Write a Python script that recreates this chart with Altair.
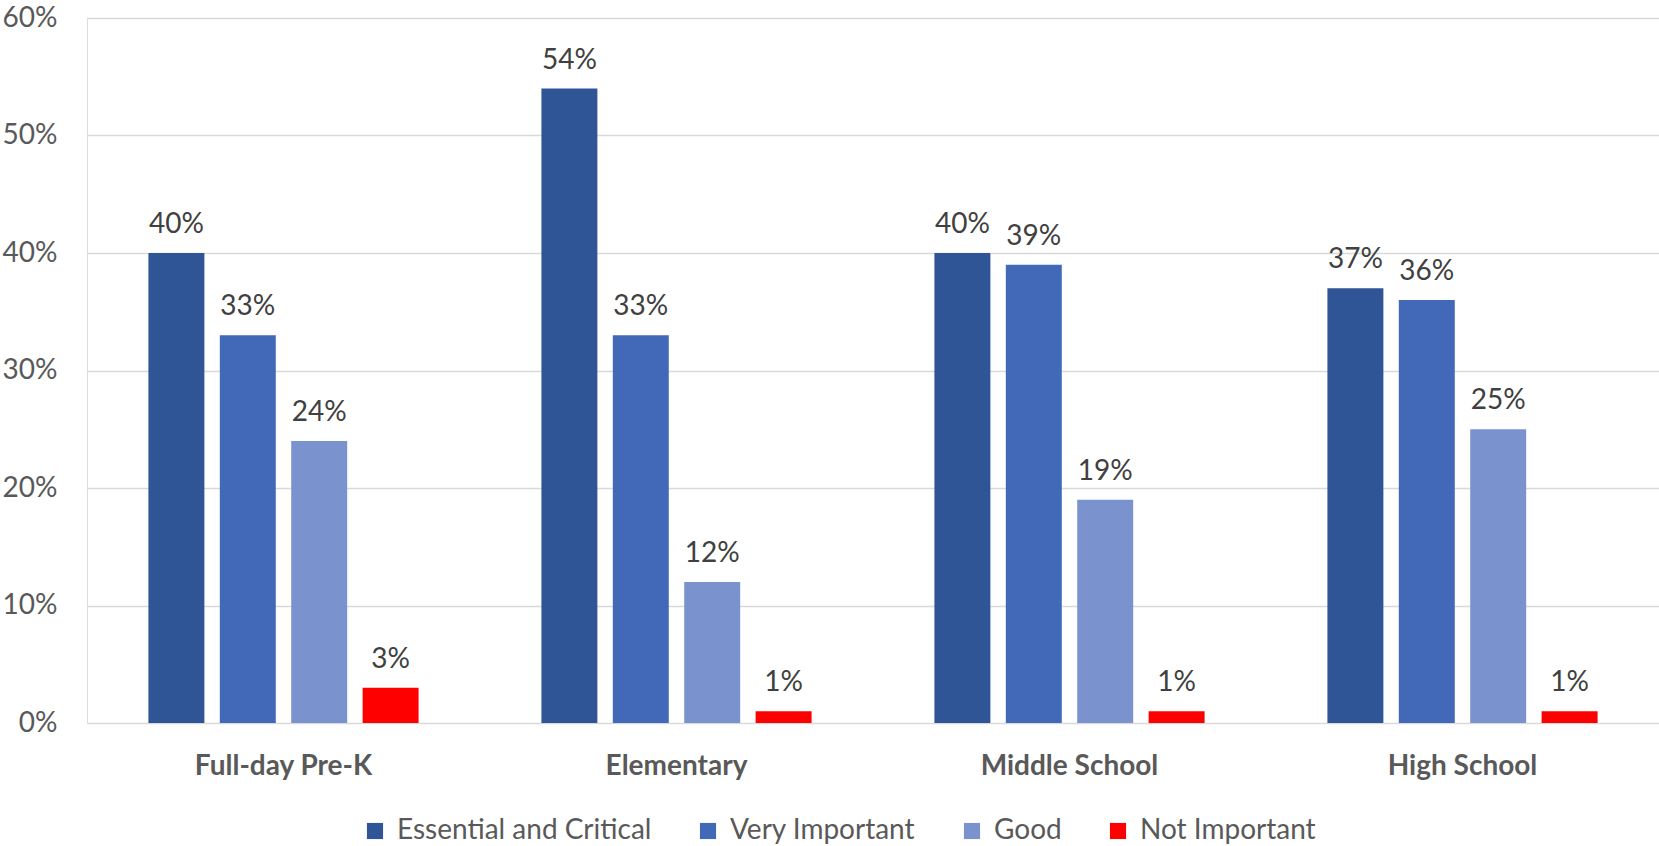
import altair as alt
import pandas as pd

categories = ["Full-day Pre-K", "Elementary", "Middle School", "High School"]
series = ["Essential and Critical", "Very Important", "Good", "Not Important"]
essential = [0.40, 0.54, 0.40, 0.37]
very_important = [0.33, 0.33, 0.39, 0.36]
good = [0.24, 0.12, 0.19, 0.25]
not_important = [0.03, 0.01, 0.01, 0.01]
colors = ["#2F5597", "#4169B8", "#7A92CE", "#FF0000"]

rows = []
for s, vals in zip(series, [essential, very_important, good, not_important]):
    for c, v in zip(categories, vals):
        rows.append({"category": c, "series": s, "value": v})
df = pd.DataFrame(rows)

FONT = "Lato"

x = alt.X("category:N", sort=categories, title=None,
          scale=alt.Scale(paddingInner=0, paddingOuter=0),
          axis=alt.Axis(labelAngle=0, labelFont=FONT, labelFontSize=28,
                        labelFontWeight="bold", labelColor="#595959",
                        labelPadding=29, ticks=False, domain=False, grid=False))
xo = alt.XOffset("series:N", sort=series,
                 scale=alt.Scale(paddingInner=0.216, paddingOuter=0.86))
y = alt.Y("value:Q", title=None,
          scale=alt.Scale(domain=[0, 0.6], nice=False),
          axis=alt.Axis(values=[0, 0.1, 0.2, 0.3, 0.4, 0.5, 0.6], format=".0%",
                        labelFont=FONT, labelFontSize=28, labelColor="#595959",
                        labelPadding=30, ticks=False, domain=False,
                        gridColor="#D9D9D9", gridWidth=1.5))

bars = alt.Chart(df).mark_bar().encode(
    x=x, xOffset=xo, y=y,
    color=alt.Color("series:N", sort=series,
                    scale=alt.Scale(domain=series, range=colors),
                    legend=alt.Legend(title=None, orient="none", direction="horizontal",
                                      legendX=274, legendY=799,
                                      symbolType="square", symbolSize=260,
                                      symbolStrokeWidth=0, symbolOpacity=1,
                                      labelFont=FONT, labelFontSize=28,
                                      labelColor="#595959", columnPadding=42,
                                      labelOffset=8, labelLimit=0)),
)

labels = alt.Chart(df).mark_text(font=FONT, fontSize=28, color="#404040",
                                 baseline="alphabetic", dy=-20).encode(
    x=alt.X("category:N", sort=categories), xOffset=alt.XOffset("series:N", sort=series),
    y="value:Q",
    text=alt.Text("value:Q", format=".0%"),
)

chart = alt.layer(bars, labels).properties(
    width=1572, height=705,
    autosize=alt.AutoSizeParams(type="none"),
    padding={"left": 87, "top": 18, "right": 0, "bottom": 123},
).configure_view(strokeWidth=0).configure(background="white")

chart.save("out.html", embed_options={"renderer": "svg", "actions": False})
